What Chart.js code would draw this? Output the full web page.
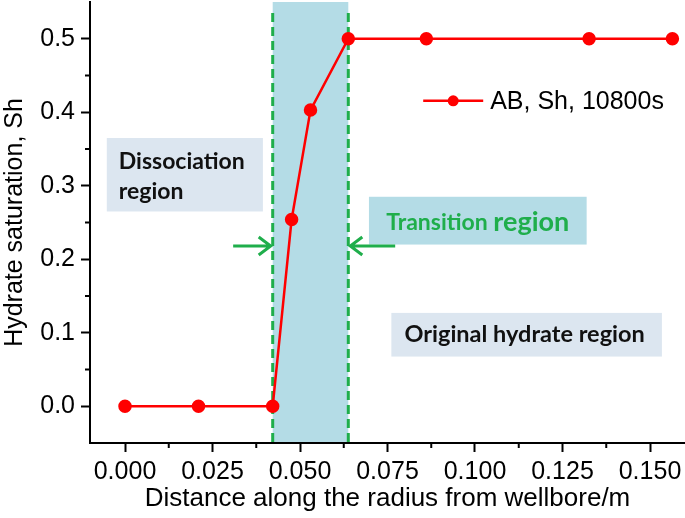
<!DOCTYPE html>
<html>
<head>
<meta charset="utf-8">
<style>
  html, body { margin: 0; padding: 0; background: #fff; }
  #wrap { width: 685px; height: 518px; }
</style>
</head>
<body>
<div id="wrap"><canvas id="satChart" width="685" height="518"></canvas></div>
<script src="https://cdn.jsdelivr.net/npm/chart.js"></script>
<script>
    // data
    var distance = [0, 0.021, 0.0422, 0.0476, 0.053, 0.0638, 0.0861, 0.1326, 0.1564];
    var sh = [0, 0, 0, 0.254, 0.403, 0.5, 0.5, 0.5, 0.5];
    var transitionZone = [0.0422, 0.0638];
    var xTicks = [0, 0.025, 0.05, 0.075, 0.1, 0.125, 0.15];
    var xTickLabels = ['0.000', '0.025', '0.050', '0.075', '0.100', '0.125', '0.150'];
    var yTicks = [0, 0.1, 0.2, 0.3, 0.4, 0.5];
    var yTickLabels = ['0.0', '0.1', '0.2', '0.3', '0.4', '0.5'];
    var seriesName = 'AB, Sh, 10800s';

    var RED = '#ff0000';
    var GREEN = '#1fae4b';
    var SHADE = '#b4dce6';
    var PALE = '#dce6f0';
    var tickFont = 'Arial, "Liberation Sans", sans-serif';
    var noteFont = 'Lato, "Open Sans", sans-serif';

    function withMinors(major) {
        var out = [];
        for (var i = 0; i < major.length; i++) {
            out.push({ value: major[i], major: true });
            if (i < major.length - 1) out.push({ value: (major[i] + major[i + 1]) / 2, major: false });
        }
        return out;
    }

    function labelFor(values, labels) {
        return function (val) {
            for (var i = 0; i < values.length; i++) {
                if (Math.abs(values[i] - val) < 1e-9) return labels[i];
            }
            return '';
        };
    }

    function isMajorTick(values) {
        return function (c) {
            if (!c.tick) return true;
            for (var i = 0; i < values.length; i++) {
                if (Math.abs(values[i] - c.tick.value) < 1e-9) return true;
            }
            return false;
        };
    }

    function arrow(ctx, x0, x1, y) {
        var dir = x1 > x0 ? 1 : -1;
        ctx.beginPath();
        ctx.moveTo(x0, y);
        ctx.lineTo(x1, y);
        ctx.moveTo(x1 - dir * 12, y - 9);
        ctx.lineTo(x1, y);
        ctx.lineTo(x1 - dir * 12, y + 9);
        ctx.stroke();
    }

    var overlay = {
        id: 'overlay',
        beforeDatasetsDraw: function (chart) {
            var ctx = chart.ctx, area = chart.chartArea;
            var x = chart.scales.x, y = chart.scales.y;
            var x0 = x.getPixelForValue(transitionZone[0]);
            var x1 = x.getPixelForValue(transitionZone[1]);
            ctx.save();
            ctx.fillStyle = SHADE;
            ctx.fillRect(x0, area.top, x1 - x0, area.bottom - area.top - 1);
            ctx.strokeStyle = GREEN;
            ctx.lineWidth = 3;
            ctx.setLineDash([9, 5]);
            [x0, x1].forEach(function (px) {
                ctx.beginPath();
                ctx.moveTo(px, area.top + 11);
                ctx.lineTo(px, area.bottom);
                ctx.stroke();
            });
            ctx.restore();
        },
        afterDatasetsDraw: function (chart) {
            var ctx = chart.ctx, area = chart.chartArea;
            var x = chart.scales.x, y = chart.scales.y;
            ctx.save();

            // minor ticks
            ctx.strokeStyle = '#000';
            ctx.lineWidth = 2;
            x.ticks.forEach(function (t) {
                if (t.major) return;
                var px = x.getPixelForValue(t.value);
                ctx.beginPath(); ctx.moveTo(px, area.bottom); ctx.lineTo(px, area.bottom + 5); ctx.stroke();
            });
            y.ticks.forEach(function (t) {
                if (t.major) return;
                var py = y.getPixelForValue(t.value);
                ctx.beginPath(); ctx.moveTo(area.left, py); ctx.lineTo(area.left - 5, py); ctx.stroke();
            });

            function box(xa, xb, ya, yb, color) {
                var l = x.getPixelForValue(xa), r = x.getPixelForValue(xb);
                var t = y.getPixelForValue(yb), b = y.getPixelForValue(ya);
                ctx.fillStyle = color;
                ctx.fillRect(l, t, r - l, b - t);
                return { l: l, r: r, t: t, b: b };
            }

            ctx.textBaseline = 'middle';

            // dissociation note
            var d = box(-0.0052, 0.0394, 0.265, 0.365, PALE);
            ctx.fillStyle = '#111';
            ctx.font = 'bold 23px ' + noteFont;
            ctx.textAlign = 'left';
            ctx.fillText('Dissociation', d.l + 12, d.t + 24);
            ctx.fillText('region', d.l + 12, d.t + 54);

            // transition note
            var tr = box(0.0697, 0.1319, 0.220, 0.285, SHADE);
            ctx.fillStyle = GREEN;
            ctx.font = 'bold 23px ' + noteFont;
            var w1 = ctx.measureText('Transition ').width;
            ctx.font = 'bold 27px ' + noteFont;
            var w2 = ctx.measureText('region').width;
            var sx = (tr.l + tr.r) / 2 - (w1 + w2) / 2;
            var cy = (tr.t + tr.b) / 2 + 2;
            ctx.font = 'bold 23px ' + noteFont;
            ctx.fillText('Transition ', sx, cy);
            ctx.font = 'bold 27px ' + noteFont;
            ctx.fillText('region', sx + w1, cy);

            // original hydrate note
            var o = box(0.0761, 0.1534, 0.0676, 0.127, PALE);
            ctx.fillStyle = '#111';
            ctx.font = 'bold 23.5px ' + noteFont;
            ctx.textAlign = 'center';
            ctx.fillText('Original hydrate region', (o.l + o.r) / 2 - 2, (o.t + o.b) / 2);

            // arrows pointing at the zone edges
            ctx.strokeStyle = GREEN;
            ctx.lineWidth = 3;
            var ay = y.getPixelForValue(0.218);
            arrow(ctx, x.getPixelForValue(0.0309), x.getPixelForValue(transitionZone[0]) - 2, ay);
            arrow(ctx, x.getPixelForValue(0.0772), x.getPixelForValue(transitionZone[1]) + 2, ay);

            // legend
            var ly = y.getPixelForValue(0.4155);
            var lx = x.getPixelForValue(0.0852);
            ctx.strokeStyle = RED;
            ctx.lineWidth = 2.5;
            ctx.beginPath(); ctx.moveTo(lx, ly); ctx.lineTo(lx + 60, ly); ctx.stroke();
            ctx.fillStyle = RED;
            ctx.beginPath(); ctx.arc(lx + 30, ly, 5.5, 0, Math.PI * 2); ctx.fill();
            ctx.fillStyle = '#000';
            ctx.font = '25px ' + tickFont;
            ctx.textAlign = 'left';
            ctx.fillText(seriesName, lx + 67, ly + 1);

            ctx.restore();
        }
    };

    var ctx = document.getElementById('satChart').getContext('2d');
    var myChart = new Chart(ctx, {
        type: 'line',
        data: {
            datasets: [{
                label: seriesName,
                data: distance.map(function (d, i) { return { x: d, y: sh[i] }; }),
                borderColor: RED,
                backgroundColor: RED,
                borderWidth: 2.5,
                pointRadius: 5.5,
                pointBackgroundColor: RED,
                pointBorderColor: RED,
                tension: 0
            }]
        },
        options: {
            responsive: false,
            animation: false,
            layout: { autoPadding: false, padding: { top: 2, right: 0, left: 0, bottom: 0 } },
            plugins: {
                legend: { display: false },
                tooltip: { enabled: false }
            },
            scales: {
                x: {
                    type: 'linear',
                    min: -0.01,
                    max: 0.16,
                    afterBuildTicks: function (s) { s.ticks = withMinors(xTicks); },
                    afterFit: function (s) { s.height = 75; s.paddingLeft = 0; s.paddingRight = 0; },
                    ticks: {
                        autoSkip: false,
                        maxRotation: 0,
                        padding: 5,
                        color: '#000',
                        font: { family: tickFont, size: 25 },
                        callback: labelFor(xTicks, xTickLabels)
                    },
                    grid: {
                        drawOnChartArea: false,
                        drawTicks: true,
                        tickLength: 9,
                        tickWidth: 2,
                        tickColor: function (c) { return isMajorTick(xTicks)(c) ? '#000' : 'rgba(0,0,0,0)'; }
                    },
                    border: { color: '#000', width: 2 },
                    title: {
                        display: true,
                        text: 'Distance along the radius from wellbore/m',
                        color: '#000',
                        font: { family: tickFont, size: 26 },
                        padding: { top: 0, bottom: 4 }
                    }
                },
                y: {
                    type: 'linear',
                    min: -0.05,
                    max: 0.55,
                    afterBuildTicks: function (s) { s.ticks = withMinors(yTicks); },
                    afterFit: function (s) { s.width = 90; s.paddingTop = 0; s.paddingBottom = 0; },
                    ticks: {
                        autoSkip: false,
                        padding: 6,
                        color: '#000',
                        font: { family: tickFont, size: 25 },
                        callback: labelFor(yTicks, yTickLabels)
                    },
                    grid: {
                        drawOnChartArea: false,
                        drawTicks: true,
                        tickLength: 9,
                        tickWidth: 2,
                        tickColor: function (c) { return isMajorTick(yTicks)(c) ? '#000' : 'rgba(0,0,0,0)'; }
                    },
                    border: { color: '#000', width: 2 },
                    title: {
                        display: true,
                        text: 'Hydrate saturation, Sh',
                        color: '#000',
                        font: { family: tickFont, size: 25 },
                        padding: { top: 0, bottom: 0 }
                    }
                }
            }
        },
        plugins: [overlay]
    });
</script>
</body>
</html>
